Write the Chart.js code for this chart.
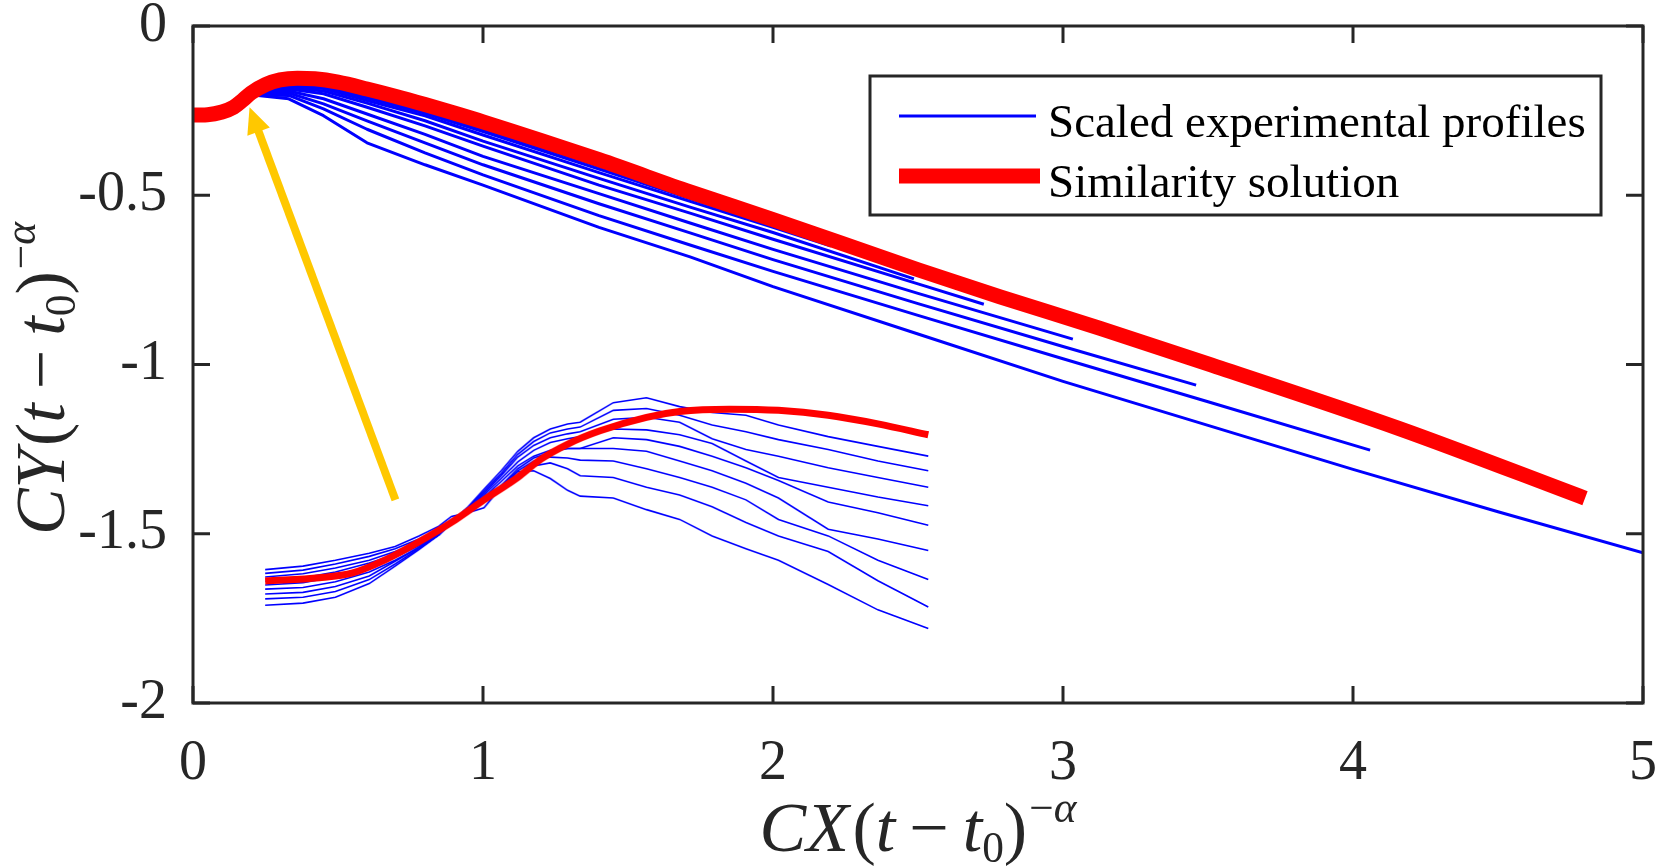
<!DOCTYPE html>
<html><head><meta charset="utf-8">
<script src="https://cdn.jsdelivr.net/npm/chart.js@4.4.1/dist/chart.umd.min.js"></script>
<style>
html,body{margin:0;padding:0;background:#fff;overflow:hidden}
#wrap{position:relative;width:1662px;height:868px}
#main{position:absolute;left:0;top:0;width:1662px;height:868px}
#inset{position:absolute;left:255.3px;top:385.4px;width:682.4px;height:258.1px}
</style></head><body>
<div id="wrap">
 <div id="main"><canvas id="c"></canvas></div>
 <div id="inset"><canvas id="ci"></canvas></div>
</div>
<script>
// ---------------- DATA (main axes) ----------------
const xTickValues = [0, 1, 2, 3, 4, 5];
const xTickLabels = ['0', '1', '2', '3', '4', '5'];
const yTickValues = [0, -0.5, -1, -1.5, -2];
const yTickLabels = ['0', '-0.5', '-1', '-1.5', '-2'];

// Similarity solution (red)
const redX = [-0.025, 0, 0.05, 0.1, 0.14, 0.17, 0.2, 0.25, 0.3, 0.36, 0.42, 0.5, 0.6, 0.7, 0.8, 0.9, 1.0, 1.4, 1.714, 2.0, 2.5, 2.783, 3.128, 3.5, 4.162, 4.8];
const redY = [-0.263, -0.263, -0.262, -0.254, -0.240, -0.220, -0.198, -0.173, -0.159, -0.154, -0.156, -0.166, -0.186, -0.208, -0.232, -0.257, -0.283, -0.395, -0.49, -0.572, -0.72, -0.80, -0.893, -0.998, -1.19, -1.395];

// Scaled experimental profiles (blue), top to bottom
const p1X = [0.224, 0.33, 0.45, 0.6, 0.8, 1.0, 1.35];
const p1Y = [-0.198, -0.171, -0.174, -0.206, -0.248, -0.300, -0.398];
const p2X = [0.224, 0.33, 0.45, 0.6, 0.8, 1.0, 1.4, 1.65];
const p2Y = [-0.199, -0.173, -0.176, -0.209, -0.252, -0.305, -0.415, -0.488];
const p3X = [0.224, 0.33, 0.45, 0.6, 0.8, 1.0, 1.4, 1.714, 1.95];
const p3Y = [-0.200, -0.175, -0.180, -0.213, -0.258, -0.312, -0.423, -0.510, -0.575];
const p4X = [0.224, 0.33, 0.45, 0.6, 0.8, 1.0, 1.4, 1.714, 2.0, 2.2];
const p4Y = [-0.200, -0.178, -0.185, -0.220, -0.265, -0.322, -0.433, -0.518, -0.595, -0.650];
const p5X = [0.224, 0.33, 0.45, 0.6, 0.8, 1.0, 1.4, 1.714, 2.0, 2.486];
const p5Y = [-0.201, -0.182, -0.192, -0.228, -0.280, -0.340, -0.450, -0.535, -0.610, -0.747];
const p6X = [0.224, 0.33, 0.45, 0.6, 0.8, 1.0, 1.4, 1.714, 2.0, 2.5, 2.727];
const p6Y = [-0.202, -0.186, -0.200, -0.240, -0.295, -0.355, -0.470, -0.553, -0.630, -0.762, -0.822];
const p7X = [0.224, 0.33, 0.45, 0.6, 0.8, 1.0, 1.4, 1.714, 2.0, 2.5, 3.034];
const p7Y = [-0.203, -0.192, -0.215, -0.260, -0.320, -0.385, -0.495, -0.582, -0.660, -0.790, -0.925];
const p8X = [0.224, 0.33, 0.45, 0.6, 0.8, 1.0, 1.4, 1.714, 2.0, 2.5, 3.0, 3.459];
const p8Y = [-0.203, -0.198, -0.230, -0.280, -0.345, -0.410, -0.525, -0.611, -0.690, -0.820, -0.947, -1.061];
const p9X = [0.224, 0.33, 0.45, 0.6, 0.8, 1.0, 1.4, 1.714, 2.0, 2.5, 3.0, 3.5, 4.059];
const p9Y = [-0.204, -0.205, -0.245, -0.305, -0.375, -0.440, -0.560, -0.647, -0.725, -0.855, -0.983, -1.110, -1.253];
const p10X = [0.224, 0.33, 0.45, 0.6, 0.8, 1.0, 1.4, 1.714, 2.0, 2.5, 3.0, 3.5, 4.0, 4.5, 5.0];
const p10Y = [-0.205, -0.215, -0.265, -0.345, -0.410, -0.470, -0.595, -0.682, -0.770, -0.910, -1.050, -1.180, -1.310, -1.435, -1.556];

// Yellow arrow (data units)
const arrowTail = [0.698, -1.400];
const arrowTip = [0.195, -0.240];

// ---------------- DATA (inset, arbitrary units 0-100) ----------------
const insetRedU = [0, 8.2, 13.2, 18.1, 23.1, 28.1, 33.0, 38.1, 41.6, 45.5, 50.5, 57.5, 62.5, 70.0, 77.4, 84.9, 92.4, 100];
const insetRedV = [21.2, 22.6, 24.7, 30.3, 37.9, 46.4, 56.1, 65.8, 73.6, 79.9, 85.8, 91.6, 94.1, 95.1, 94.6, 92.5, 88.8, 84.1];
const insetU = [0, 5.7, 10.6, 15.7, 19.6, 23.2, 26.2, 28.1, 30.6, 33.0, 35.6, 38.1, 40.5, 43.0, 45.6, 47.5, 52.5, 57.5, 62.5, 67.4, 72.5, 77.4, 84.9, 92.4, 100];
const insetP0 = [26.1, 27.6, 30.1, 33.1, 36.0, 40.6, 44.8, 49.0, 50.6, 52.7, 61.5, 68.2, 68.6, 65.3, 60.2, 57.7, 56.9, 51.9, 47.7, 40.6, 35.1, 30.1, 19.7, 8.8, 0.8];
const insetP1 = [24.5, 25.9, 28.5, 31.8, 35.1, 39.3, 43.5, 47.7, 51.9, 56.1, 61.5, 66.5, 70.7, 72.0, 69.5, 66.5, 65.7, 61.5, 58.2, 53.1, 46.4, 40.6, 33.9, 21.3, 10.0];
const insetP2 = [22.9, 24.3, 26.8, 30.1, 33.9, 38.1, 42.3, 46.9, 51.0, 56.9, 62.3, 68.6, 72.8, 74.5, 74.1, 73.2, 72.8, 69.5, 65.7, 61.5, 56.1, 47.7, 40.6, 30.1, 21.8];
const insetP3 = [21.1, 22.6, 25.1, 28.9, 32.6, 36.8, 41.4, 46.0, 51.0, 56.1, 62.3, 69.5, 74.1, 76.6, 78.2, 78.2, 78.2, 77.0, 72.8, 68.6, 63.2, 56.9, 43.5, 39.3, 34.3];
const insetP4 = [19.5, 20.5, 23.0, 26.8, 31.4, 36.4, 41.4, 46.0, 51.5, 57.3, 64.0, 70.7, 74.9, 77.4, 78.2, 78.2, 82.8, 82.0, 79.1, 74.9, 69.9, 64.4, 55.2, 50.6, 45.2];
const insetP5 = [17.7, 18.4, 20.9, 25.1, 30.1, 35.6, 41.0, 46.0, 51.9, 58.2, 65.3, 72.4, 77.4, 80.8, 82.4, 83.3, 86.6, 86.2, 84.1, 80.3, 72.8, 65.7, 61.5, 57.3, 53.6];
const insetP6 = [15.6, 16.3, 18.8, 23.4, 29.7, 35.6, 41.0, 46.4, 52.3, 59.0, 66.5, 74.5, 79.5, 82.8, 84.5, 85.4, 90.8, 91.6, 89.5, 82.4, 77.8, 74.9, 69.9, 65.7, 61.5];
const insetP7 = [13.5, 14.2, 16.7, 21.8, 28.5, 35.1, 41.0, 46.4, 52.7, 59.8, 67.4, 75.7, 81.2, 84.9, 86.6, 87.4, 94.6, 95.4, 92.5, 88.3, 85.4, 82.0, 77.8, 72.8, 68.6];
const insetP8 = [10.8, 11.7, 14.2, 20.1, 27.6, 34.7, 41.0, 46.9, 53.1, 60.7, 68.6, 77.0, 82.8, 86.6, 88.7, 89.5, 97.9, 100, 96.2, 93.7, 92.5, 88.3, 83.3, 79.1, 74.9];

const legendLabels = ['Scaled experimental profiles', 'Similarity solution'];

// ---------------- CHART ----------------
const SERIF = '"Liberation Serif","Times New Roman",serif';
const AXIS_COLOR = '#262626';
const BLUE = '#0000ff', RED = '#ff0000', YELLOW = '#ffc800';

function pts(xs, ys) { return xs.map((x, i) => ({ x: x, y: ys[i] })); }

const profiles = [[p1X, p1Y], [p2X, p2Y], [p3X, p3Y], [p4X, p4Y], [p5X, p5Y], [p6X, p6Y], [p7X, p7Y], [p8X, p8Y], [p9X, p9Y], [p10X, p10Y]];

const mainDatasets = [{
  label: legendLabels[1], data: pts(redX, redY), borderColor: RED, borderWidth: 15,
  pointRadius: 0, cubicInterpolationMode: 'monotone', borderCapStyle: 'butt', order: 0, fill: false
}];
profiles.forEach(p => mainDatasets.push({
  label: legendLabels[0], data: pts(p[0], p[1]), borderColor: BLUE, borderWidth: 3,
  pointRadius: 0, tension: 0, borderCapStyle: 'butt', borderJoinStyle: 'round', order: 1, fill: false
}));

function layoutMath(ctx, pieces, size) {
  let x = 0;
  const items = [];
  pieces.forEach(p => {
    const fs = size * (p.s || 1);
    ctx.font = (p.i ? 'italic ' : '') + fs + 'px ' + SERIF;
    const w = ctx.measureText(p.t).width;
    x += (p.pre || 0) * size;
    items.push({ p: p, x: x, fs: fs });
    x += w + (p.post || 0) * size;
  });
  return { width: x, items: items };
}
function renderMath(ctx, layout, size) {
  layout.items.forEach(it => {
    ctx.font = (it.p.i ? 'italic ' : '') + it.fs + 'px ' + SERIF;
    ctx.fillText(it.p.t, it.x, (it.p.dy || 0) * size);
  });
}
function titlePieces(letter) {
  return [
    { t: 'C', i: true }, { t: letter, i: true, post: 0.05 }, { t: '(' }, { t: 't', i: true },
    { t: '\u2212', pre: 0.2, post: 0.2 }, { t: 't', i: true }, { t: '0', s: 0.62, dy: 0.15 },
    { t: ')', post: 0.03 }, { t: '\u2212', s: 0.62, dy: -0.42 }, { t: '\u03b1', i: true, s: 0.62, dy: -0.42 }
  ];
}

const framePlugin = {
  id: 'frame',
  afterDatasetsDraw(chart) {
    const ctx = chart.ctx, a = chart.chartArea;
    const xs = chart.scales.x, ys = chart.scales.y;
    ctx.save();
    // arrow
    const tx = xs.getPixelForValue(arrowTail[0]), ty = ys.getPixelForValue(arrowTail[1]);
    const hx = xs.getPixelForValue(arrowTip[0]), hy = ys.getPixelForValue(arrowTip[1]);
    const dx = hx - tx, dy = hy - ty, len = Math.hypot(dx, dy);
    const ux = dx / len, uy = dy / len, headL = 26, headW = 12;
    const bx = hx - ux * headL, by = hy - uy * headL;
    ctx.strokeStyle = YELLOW; ctx.fillStyle = YELLOW; ctx.lineWidth = 8; ctx.lineCap = 'butt';
    ctx.beginPath(); ctx.moveTo(tx, ty); ctx.lineTo(bx + ux * 2, by + uy * 2); ctx.stroke();
    ctx.beginPath(); ctx.moveTo(hx, hy);
    ctx.lineTo(bx - uy * headW, by + ux * headW); ctx.lineTo(bx + uy * headW, by - ux * headW);
    ctx.closePath(); ctx.fill();
    // box
    ctx.strokeStyle = AXIS_COLOR; ctx.lineWidth = 3; ctx.lineCap = 'square';
    ctx.strokeRect(a.left, a.top, a.right - a.left, a.bottom - a.top);
    // inward ticks on all four sides
    const tl = 17;
    ctx.beginPath();
    xTickValues.forEach(v => {
      const px = xs.getPixelForValue(v);
      ctx.moveTo(px, a.bottom); ctx.lineTo(px, a.bottom - tl);
      ctx.moveTo(px, a.top); ctx.lineTo(px, a.top + tl);
    });
    yTickValues.forEach(v => {
      const py = ys.getPixelForValue(v);
      ctx.moveTo(a.left, py); ctx.lineTo(a.left + tl, py);
      ctx.moveTo(a.right, py); ctx.lineTo(a.right - tl, py);
    });
    ctx.lineCap = 'butt';
    ctx.stroke();
    ctx.restore();
  },
  afterDraw(chart) {
    const ctx = chart.ctx, a = chart.chartArea;
    ctx.save();
    // legend
    const lx = a.right - 42, ly = a.top + 50, lw = 731, lh = 139;
    const L = lx - lw;
    ctx.fillStyle = '#fff'; ctx.fillRect(L, ly, lw, lh);
    ctx.strokeStyle = AXIS_COLOR; ctx.lineWidth = 3; ctx.strokeRect(L, ly, lw, lh);
    ctx.lineCap = 'butt';
    ctx.strokeStyle = BLUE; ctx.lineWidth = 3;
    ctx.beginPath(); ctx.moveTo(L + 29, ly + 40); ctx.lineTo(L + 166, ly + 40); ctx.stroke();
    ctx.strokeStyle = RED; ctx.lineWidth = 15;
    ctx.beginPath(); ctx.moveTo(L + 29, ly + 100); ctx.lineTo(L + 170, ly + 100); ctx.stroke();
    ctx.fillStyle = '#000'; ctx.font = '47px ' + SERIF; ctx.textBaseline = 'alphabetic'; ctx.textAlign = 'left';
    ctx.fillText(legendLabels[0], L + 178, ly + 61);
    ctx.fillText(legendLabels[1], L + 178, ly + 121);
    // axis titles
    const size = 70;
    ctx.fillStyle = AXIS_COLOR;
    const lxT = layoutMath(ctx, titlePieces('X'), size);
    ctx.save();
    ctx.translate((a.left + a.right) / 2 - lxT.width / 2, 851);
    renderMath(ctx, lxT, size);
    ctx.restore();
    const lyT = layoutMath(ctx, titlePieces('Y'), size);
    ctx.save();
    ctx.translate(64, (a.top + a.bottom) / 2 + 14 + lyT.width / 2);
    ctx.rotate(-Math.PI / 2);
    renderMath(ctx, lyT, size);
    ctx.restore();
    ctx.restore();
  }
};

new Chart(document.getElementById('c'), {
  type: 'line',
  data: { datasets: mainDatasets },
  options: {
    responsive: true, maintainAspectRatio: false, animation: false, events: [],
    layout: { padding: { top: 26, right: 19, left: 0, bottom: 0 } },
    plugins: { legend: { display: false }, tooltip: { enabled: false } },
    scales: {
      x: {
        type: 'linear', min: 0, max: 5,
        afterFit(s) { s.height = 165; s.paddingLeft = 0; s.paddingRight = 0; },
        afterBuildTicks(s) { s.ticks = xTickValues.map(v => ({ value: v })); },
        grid: { display: false }, border: { display: false },
        ticks: {
          autoSkip: false, maxRotation: 0, padding: 20, color: AXIS_COLOR,
          font: { family: SERIF, size: 56 },
          callback(v) { const i = xTickValues.findIndex(t => Math.abs(t - v) < 1e-9); return i >= 0 ? xTickLabels[i] : ''; }
        }
      },
      y: {
        type: 'linear', min: -2, max: 0,
        afterFit(s) { s.width = 193; s.paddingTop = 0; s.paddingBottom = 0; },
        afterBuildTicks(s) { s.ticks = yTickValues.map(v => ({ value: v })); },
        grid: { display: false }, border: { display: false },
        ticks: {
          autoSkip: false, padding: 18, color: AXIS_COLOR,
          font: { family: SERIF, size: 56 },
          callback(v) { const i = yTickValues.findIndex(t => Math.abs(t - v) < 1e-9); return i >= 0 ? yTickLabels[i] : ''; }
        }
      }
    }
  },
  plugins: [framePlugin]
});

// ---------------- INSET ----------------
const insetProfiles = [insetP0, insetP1, insetP2, insetP3, insetP4, insetP5, insetP6, insetP7, insetP8];
const insetDatasets = [{
  data: pts(insetRedU, insetRedV), borderColor: RED, borderWidth: 7, pointRadius: 0,
  cubicInterpolationMode: 'monotone', order: 0, borderCapStyle: 'butt'
}];
insetProfiles.forEach(v => insetDatasets.push({
  data: pts(insetU, v), borderColor: BLUE, borderWidth: 1.6, pointRadius: 0, tension: 0, order: 1
}));
new Chart(document.getElementById('ci'), {
  type: 'line',
  data: { datasets: insetDatasets },
  options: {
    responsive: true, maintainAspectRatio: false, animation: false, events: [],
    layout: { padding: 0 },
    plugins: { legend: { display: false }, tooltip: { enabled: false } },
    scales: {
      x: { type: 'linear', display: false, min: -1, max: 101 },
      y: { type: 'linear', display: false, min: -4, max: 104 }
    }
  }
});
</script>
</body></html>
